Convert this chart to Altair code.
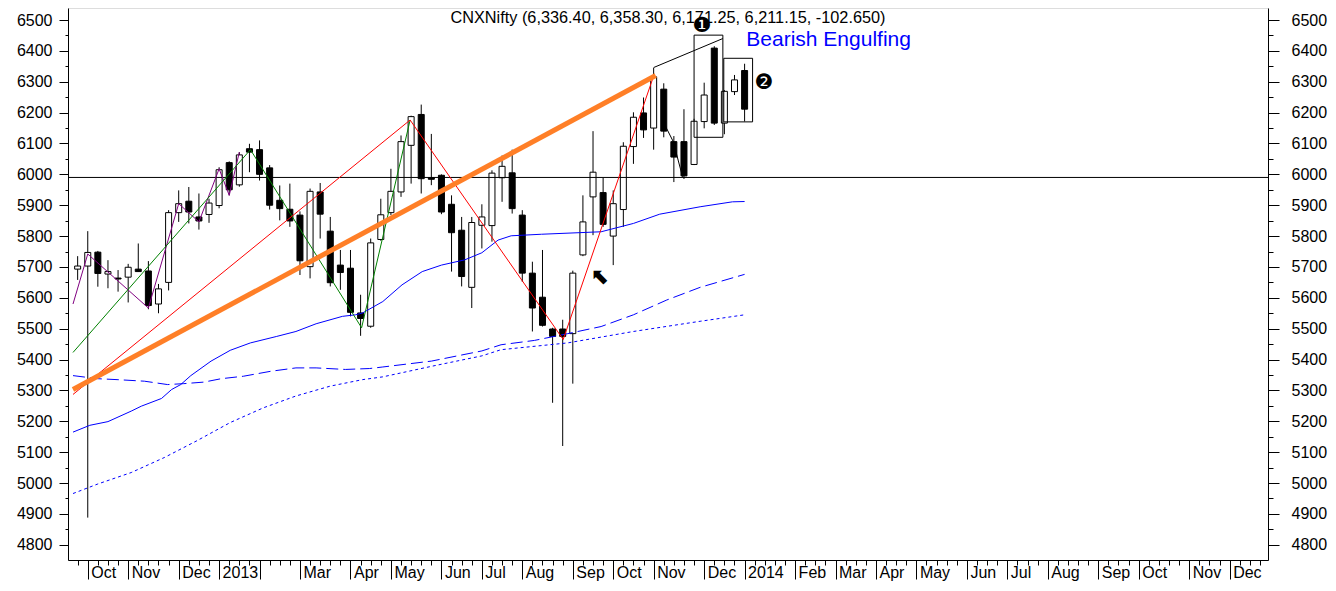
import json
import altair as alt
import pandas as pd

# ---------------- data ----------------
TITLE = "CNXNifty (6,336.40, 6,358.30, 6,171.25, 6,211.15, -102.650)"

# weekly bars, index 0 = week ending 28 Sep 2012 ... 66 = week ending 3 Jan 2014
opens = [5693, 5703, 5748, 5677, 5664, 5667, 5693, 5687, 5580, 5650,
         5876, 5913, 5862, 5870, 5899, 6038, 5966, 6083, 6080, 6021,
         5916, 5887, 5868, 5701, 5943, 5816, 5706, 5696, 5551, 5508,
         5789, 5876, 5943, 6094, 6194, 5989, 5997, 5903, 5819, 5634,
         5835, 5834, 5989, 6005, 5868, 5680, 5602, 5499, 5499, 5484,
         5739, 5927, 5941, 5800, 5886, 6090, 6199, 6150, 6276, 6106,
         6106, 6032, 6171, 6409, 6166, 6268, 6336.40]
highs = [5735, 5816, 5752, 5722, 5690, 5710, 5776, 5719, 5645, 5884,
         5948, 5959, 5938, 5921, 6023, 6042, 6072, 6099, 6110, 6030,
         5964, 5970, 5880, 5954, 5972, 5862, 5755, 5755, 5610, 5792,
         5921, 6018, 6126, 6190, 6226, 6131, 6000, 5932, 5862, 5862,
         5903, 6013, 6061, 6080, 5884, 5717, 5755, 5503, 5529, 5688,
         5932, 6140, 5989, 5948, 6104, 6201, 6249, 6345, 6295, 6124,
         6211, 6180, 6297, 6415, 6273, 6322, 6358.30]
lows = [5658, 4888, 5636, 5631, 5620, 5585, 5684, 5563, 5550, 5624,
        5846, 5841, 5821, 5843, 5890, 5932, 5960, 6007, 5980, 5886,
        5851, 5830, 5674, 5663, 5792, 5637, 5626, 5540, 5477, 5503,
        5785, 5868, 5927, 5970, 5938, 5965, 5871, 5685, 5637, 5567,
        5760, 5782, 5911, 5873, 5652, 5491, 5507, 5260, 5120, 5322,
        5735, 5803, 5830, 5706, 5830, 6034, 6118, 6080, 6120, 5975,
        5985, 6030, 6149, 6160, 6130, 6257, 6171.25]
closes = [5703, 5747, 5679, 5685, 5661, 5699, 5685, 5575, 5629, 5876,
          5905, 5878, 5849, 5907, 6015, 5950, 6063, 6072, 6000, 5900,
          5889, 5849, 5720, 5945, 5871, 5649, 5682, 5553, 5533, 5778,
          5869, 5945, 6106, 6187, 5986, 5984, 5878, 5811, 5669, 5844,
          5862, 6004, 6026, 5889, 5680, 5567, 5511, 5475, 5475, 5680,
          5846, 6007, 5838, 5905, 6091, 6185, 6144, 6316, 6140, 6056,
          5995, 6172, 6257, 6166, 6269, 6306, 6211.15]

# x-axis: first week of each month (bar index) and its label
month_idx = [1, 5, 10, 14, 18, 22, 27, 31, 36, 40, 44, 49, 53, 57, 62, 66,
             71, 75, 79, 83, 88, 92, 96, 101, 105, 110, 114]
month_lbl = ["Oct", "Nov", "Dec", "2013", "", "Mar", "Apr", "May", "Jun", "Jul",
             "Aug", "Sep", "Oct", "Nov", "Dec", "2014", "Feb", "Mar", "Apr", "May",
             "Jun", "Jul", "Aug", "Sep", "Oct", "Nov", "Dec"]

# moving averages
ma1_i = [-0.46, 1.2, 3.0, 5.3, 6.3, 8.3, 9.3, 10.2, 11.2, 13.2, 15.1, 17.1, 19.7, 21.6,
         23.6, 26.2, 27.5, 28.2, 30.2, 32.1, 34.1, 36.0, 38.3, 40.0, 41.6, 42.9, 45.9,
         51.8, 55.0, 57.6, 61.6, 64.8, 66]
ma1_v = [5165, 5187, 5199, 5233, 5249, 5274, 5303, 5319, 5348, 5395, 5430, 5454, 5475, 5491,
         5516, 5540, 5545, 5551, 5588, 5642, 5685, 5706, 5723, 5746, 5787, 5801, 5806,
         5814, 5841, 5871, 5895, 5911, 5912]
ma2_i = [-0.46, 2.0, 3.9, 6.6, 8.9, 10.5, 12.5, 14.2, 16.4, 19.1, 21.6, 23.6, 26.5, 28.9,
         30.2, 35.0, 40.0, 41.9, 45.2, 48.5, 51.8, 55.0, 58.3, 61.6, 66]
ma2_v = [5348, 5338, 5335, 5330, 5319, 5322, 5327, 5338, 5346, 5362, 5373, 5373, 5368, 5371,
         5376, 5395, 5428, 5448, 5462, 5484, 5507, 5545, 5593, 5634, 5676]
ma3_i = [-0.46, 2.0, 5.3, 8.6, 11.8, 15.1, 18.4, 21.6, 25.0, 28.2, 30.2, 35.0, 40.0, 41.9,
         48.5, 55.0, 61.6, 66]
ma3_v = [4966, 4997, 5034, 5083, 5137, 5196, 5244, 5282, 5314, 5335, 5344, 5378, 5412, 5432,
         5454, 5491, 5524, 5545]

# drawn lines
purple_i = [-0.46, 1, 7, 10, 12, 14, 15, 16]
purple_v = [5580, 5742, 5567, 5905, 5846, 6018, 5932, 6072]
green_i = [-0.46, 17.1, 28.1, 32.9]
green_v = [5423, 6080, 5503, 6176]
red_i = [-0.46, 32.9, 48.05, 57.0]
red_v = [5287, 6176, 5465, 6319]
orange_i = [-0.46, 57.2]
orange_v = [5303, 6320]
black_i = [58.0, 58.2, 58.94, 59.86]
black_v = [6180, 6154, 6106, 5992]
trend_i = [57.0, 63.85]
trend_v = [6346, 6440]
hline_v = [5990]

# boxes
box_i1 = [61.0, 63.94]
box_i2 = [63.85, 66.79]
box_lo = [6120, 6170]
box_hi = [6451, 6376]

# ---------------- chart ----------------
FONT = "Liberation Sans"
W, H = 1200, 552
xs = alt.Scale(domain=[-0.46, 117.3], nice=False, zero=False)
ys = alt.Scale(domain=[4750.7, 6538.9], nice=False, zero=False)

candles = pd.DataFrame({"i": list(range(len(opens))), "o": opens, "h": highs,
                        "l": lows, "c": closes})
candles["fill"] = ["white" if c >= o else "black" for o, c in zip(opens, closes)]

label_expr = "%s[indexof(%s, datum.value)]" % (json.dumps(month_lbl), json.dumps(month_idx))

ax_weeks = alt.Axis(orient="bottom", values=list(range(0, 118)), tickSize=5, labels=False,
                    grid=False, domain=True, domainColor="black", tickColor="black",
                    title=None)
ax_months = alt.Axis(orient="bottom", values=month_idx, tickSize=19, labelExpr=label_expr,
                     labelAlign="left", labelOffset=3, labelPadding=-15, labelBaseline="top",
                     labelFont=FONT, labelFontSize=16, labelColor="black", domain=False,
                     grid=False, tickColor="black", title=None, labelOverlap=False,
                     labelFlush=False, labelBound=False)
ax_left = alt.Axis(orient="left", values=list(range(4800, 6501, 100)), tickSize=9,
                   labelPadding=7, labelFont=FONT, labelFontSize=16, labelColor="black",
                   grid=False, domain=True, domainColor="black", tickColor="black",
                   title=None, labelOverlap=False, format="d")
ax_left_minor = alt.Axis(orient="left", values=list(range(4750, 6501, 50)), tickSize=3,
                         labels=False, grid=False, domain=False, tickColor="black", title=None)
ax_right = alt.Axis(orient="right", values=list(range(4800, 6501, 100)), tickSize=11,
                    labelPadding=12, labelFont=FONT, labelFontSize=16, labelColor="black",
                    grid=False, domain=True, domainColor="black", tickColor="black",
                    title=None, labelOverlap=False, format="d")
ax_right_minor = alt.Axis(orient="right", values=list(range(4750, 6501, 50)), tickSize=5,
                          labels=False, grid=False, domain=False, tickColor="black", title=None)

wicks = alt.Chart(candles).mark_rule(color="black", strokeWidth=1).encode(
    x=alt.X("i:Q", scale=xs, axis=ax_weeks),
    y=alt.Y("l:Q", scale=ys, axis=ax_left),
    y2="h:Q",
)
bodies = alt.Chart(candles).mark_bar(size=6, stroke="black", strokeWidth=1).encode(
    x=alt.X("i:Q", scale=xs, axis=ax_months),
    y=alt.Y("o:Q", scale=ys, axis=ax_right),
    y2="c:Q",
    fill=alt.Fill("fill:N", scale=None),
)

hline = alt.Chart(pd.DataFrame({"v": hline_v})).mark_rule(color="black", strokeWidth=1).encode(
    y=alt.Y("v:Q", scale=ys, axis=ax_left_minor)
)


def line(ii, vv, color, width=1.0, dash=None, axis=None):
    kw = dict(color=color, strokeWidth=width, clip=True)
    if dash:
        kw["strokeDash"] = dash
    return alt.Chart(pd.DataFrame({"i": ii, "v": vv})).mark_line(**kw).encode(
        x=alt.X("i:Q", scale=xs, axis=None),
        y=alt.Y("v:Q", scale=ys, axis=axis),
        order="i:Q",
    )


ma1 = line(ma1_i, ma1_v, "#0000FF", 1, axis=ax_right_minor)
ma2 = line(ma2_i, ma2_v, "#0000FF", 1, [12, 5])
ma3 = line(ma3_i, ma3_v, "#0000FF", 1, [3, 3])
purple = line(purple_i, purple_v, "#800080", 1)
green = line(green_i, green_v, "#008000", 1)
red = line(red_i, red_v, "#FF0000", 1)
orange = line(orange_i, orange_v, "#FF7F27", 5)
blackz = line(black_i, black_v, "black", 1)
trend = line(trend_i, trend_v, "black", 1)

boxes = alt.Chart(pd.DataFrame({"a": box_i1, "b": box_i2, "lo": box_lo, "hi": box_hi})).mark_rect(
    fillOpacity=0, stroke="black", strokeWidth=1).encode(
    x=alt.X("a:Q", scale=xs, axis=None), x2="b:Q",
    y=alt.Y("lo:Q", scale=ys, axis=None), y2="hi:Q",
)


def text(i, v, s, size, color="black", font=FONT, align="center", baseline="alphabetic",
         weight="normal"):
    return alt.Chart(pd.DataFrame({"i": [i], "v": [v], "t": [s]})).mark_text(
        fontSize=size, color=color, font=font, align=align, baseline=baseline,
        fontWeight=weight).encode(
        x=alt.X("i:Q", scale=xs, axis=None),
        y=alt.Y("v:Q", scale=ys, axis=None),
        text="t:N",
    )


title = text(58.42, 6491, TITLE, 16.3)
bearish = text(66.17, 6416, "Bearish Engulfing", 21, color="#0000FF", align="left")
one = text(61.75, 6480, "\u2776", 21, font="DejaVu Sans", baseline="middle")
two = text(67.9, 6297, "\u2777", 21, font="DejaVu Sans", baseline="middle")
arrow = text(51.75, 5667, "\u2B09", 22, font="DejaVu Sans", baseline="middle", weight="bold")

chart = alt.layer(
    wicks, bodies, hline, ma1, ma2, ma3, purple, green, red, orange, blackz, trend,
    boxes, title, bearish, one, two, arrow,
).resolve_axis(x="independent", y="independent").properties(
    width=W, height=H,
    padding={"left": 60, "top": 0, "right": 60, "bottom": 22},
    autosize=alt.AutoSizeParams(type="none"),
).configure_view(stroke=None).configure(background="white")

chart.save("out.html", embed_options={"renderer": "svg", "actions": False})
